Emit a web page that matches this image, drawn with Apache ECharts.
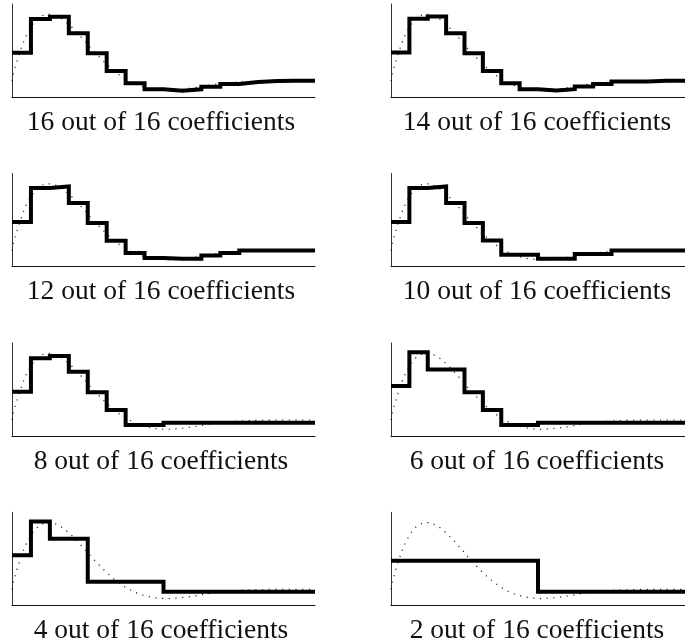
<!DOCTYPE html>
<html>
<head>
<meta charset="utf-8">
<script src="https://cdn.jsdelivr.net/npm/echarts@6/dist/echarts.min.js"></script>
<style>
  html, body { margin: 0; padding: 0; background: #fff; }
  #chart { width: 685px; height: 644px; }
</style>
</head>
<body>
<div id="chart"></div>
<script>
// original signal (x in coefficient steps 0..16)
var curveX = [0, 0.07, 0.18, 0.30, 0.56, 0.72, 0.90, 1.11, 1.39, 1.74, 2.15, 2.52, 2.85, 3.15, 3.43, 3.91, 4.17,
              4.72, 5.02, 5.31, 5.63, 5.97, 6.32, 6.71, 7.09, 7.51, 8.22, 8.92, 9.63, 10.33, 11.21, 12.27, 13.85, 15.52, 16];
var curveY = [16, 23.6, 30.6, 38, 52.6, 60, 66.6, 73, 79, 82.6, 82.6, 79.6, 75, 70, 64.3, 54.6, 48.6,
              38, 32.3, 27.3, 22.6, 18.3, 14.6, 11.3, 9.3, 7.6, 6.6, 7.6, 9.3, 11.6, 14, 15.3, 16, 16, 16];

// reconstructed step values, one per coefficient slot
var steps16 = [44.3, 78, 80.3, 63.7, 43.7, 26, 13.7, 7.7, 6.3, 7.7, 10.3, 13, 15, 16, 16.3, 16.3];
var steps14 = [44.4, 78.2, 80.4, 63.8, 43.8, 26.1, 13.8, 7.8, 6.4, 7.8, 10.4, 13.1, 15.5, 15.5, 16.3, 16.3];
var steps12 = [44.4, 78.4, 80, 63.4, 43.4, 25.7, 13.4, 8.4, 7.7, 7.7, 11, 13.4, 16, 16, 16, 16];
var steps10 = [44.4, 78.4, 80, 63.4, 43.4, 26, 11.7, 11.7, 7.7, 7.7, 12.4, 12.4, 16, 16, 16, 16];
var steps8  = [44.3, 77.7, 80, 64.3, 43.7, 26, 11, 11, 13.3, 13.3, 13.3, 13.3, 13.3, 13.3, 13.3, 13.3];
var steps6  = [50, 83.7, 66.5, 66.5, 43.7, 26, 11, 11, 13.3, 13.3, 13.3, 13.3, 13.3, 13.3, 13.3, 13.3];
var steps4  = [50, 83.7, 66.5, 66.5, 23.6, 23.6, 23.6, 23.6, 13.6, 13.6, 13.6, 13.6, 13.6, 13.6, 13.6, 13.6];
var steps2  = [44.6, 44.6, 44.6, 44.6, 44.6, 44.6, 44.6, 44.6, 13.6, 13.6, 13.6, 13.6, 13.6, 13.6, 13.6, 13.6];

var panelSteps  = [steps16, steps14, steps12, steps10, steps8, steps6, steps4, steps2];
var panelLabels = ['16 out of 16 coefficients', '14 out of 16 coefficients',
                   '12 out of 16 coefficients', '10 out of 16 coefficients',
                   '8 out of 16 coefficients', '6 out of 16 coefficients',
                   '4 out of 16 coefficients', '2 out of 16 coefficients'];

var colLeft  = [12, 391];      // left edge of plot area per column
var colText  = [161, 537];     // caption centre per column
var rowBottom = [97, 266.5, 436, 605.3];
var plotW = 303, plotH = 93;

function stepData(vals){
	var d = vals.map(function(v, i){ return [i, v]; });
	d.push([16, vals[vals.length - 1]]);
	return d;
}
var curveData = curveX.map(function(x, i){ return [x, curveY[i]]; });

var grids = [], xAxes = [], yAxes = [], series = [], texts = [];
for (var i = 0; i < 8; i++){
	var col = i % 2, row = Math.floor(i / 2);
	grids.push({ left: colLeft[col], top: rowBottom[row] - plotH, width: plotW, height: plotH });
	xAxes.push({ type: 'value', gridIndex: i, min: 0, max: 16,
		axisLine: { show: true, onZero: false, lineStyle: { color: '#111', width: 1 } },
		axisTick: { show: false }, axisLabel: { show: false }, splitLine: { show: false } });
	yAxes.push({ type: 'value', gridIndex: i, min: 0, max: plotH,
		axisLine: { show: true, lineStyle: { color: '#333', width: 1 } },
		axisTick: { show: false }, axisLabel: { show: false }, splitLine: { show: false } });
	// dotted original
	series.push({ type: 'line', xAxisIndex: i, yAxisIndex: i, data: curveData, symbol: 'none',
		lineStyle: { color: '#222', width: 1.2, type: [1.2, 5.5] }, z: 2 });
	// thick approximation
	series.push({ type: 'line', xAxisIndex: i, yAxisIndex: i, data: stepData(panelSteps[i]), step: 'end',
		symbol: 'none', clip: false, lineStyle: { color: '#000', width: 4, join: 'miter', cap: 'butt' }, z: 3 });
	texts.push({ type: 'text', x: colText[col], y: rowBottom[row] + 25.5,
		style: { text: panelLabels[i], fill: '#111', fontSize: 27.5, fontFamily: '"Liberation Serif", serif',
			align: 'center', verticalAlign: 'middle' } });
}

var chart = echarts.init(document.getElementById('chart'));
chart.setOption({
	animation: false,
	grid: grids,
	xAxis: xAxes,
	yAxis: yAxes,
	series: series,
	graphic: texts
});
</script>
</body>
</html>
